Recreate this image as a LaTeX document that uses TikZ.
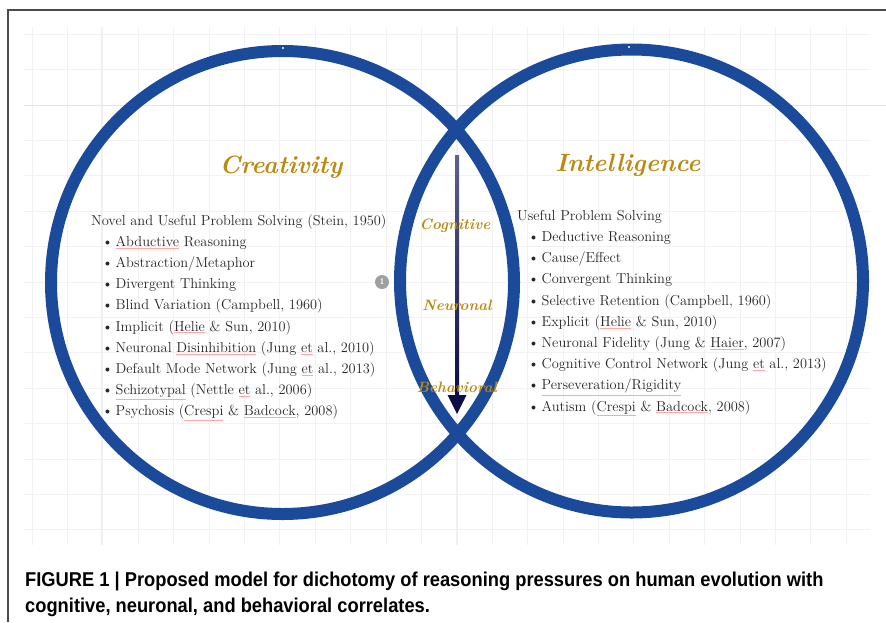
\documentclass[tikz,border=0pt]{standalone}
\usepackage{fontspec}
\usepackage{tikz}
\usetikzlibrary{positioning,arrows.meta}
\newfontfamily\capfont[FakeStretch=0.915]{Liberation Sans}
\definecolor{ringblue}{RGB}{26,74,153}
\definecolor{goldtext}{RGB}{186,138,18}
\definecolor{textgray}{RGB}{38,38,38}
\definecolor{arrownavy}{RGB}{12,12,70}
\newcommand{\spell}[1]{{\color{red!35}\underline{\color{textgray}#1}}}
\newcommand{\itm}{\hspace*{11pt}\textbullet\hspace{2.5pt}}

\begin{document}
\begin{tikzpicture}[x=1pt, y=-1pt]
\tikzset{
  ring/.style={draw=ringblue, line width=12pt},
  title/.style={text=goldtext, font=\fontsize{25}{28}\selectfont\bfseries\itshape},
  level/.style={text=goldtext, font=\fontsize{15}{17}\selectfont\bfseries\itshape, inner sep=0pt},
  list/.style={align=left, text=textgray, inner sep=0pt, font=\fontsize{14.4}{21.2}\selectfont},
  gridline/.style={draw=gray!10, line width=0.8pt},
  majorline/.style={draw=gray!20, line width=0.9pt},
  badge/.style={circle, fill=gray!75, text=white, inner sep=0pt, minimum size=14pt, font=\sffamily\bfseries\fontsize{8}{8}\selectfont},
}
\useasboundingbox (0,0) rectangle (886,622);

% grid in the background
\foreach \i in {0,...,23}
  \draw[gridline] ({32+35.4*\i},27) -- ++(0,518);
\foreach \j in {0,...,14}
  \draw[gridline] (24,{34.2+35.4*\j}) -- (870,{34.2+35.4*\j});
\draw[majorline] (24,105) -- (886,105);
\draw[gridline, draw=gray!14] (101.5,27) -- ++(0,518);
\draw[gridline, draw=gray!14] (457,27) -- ++(0,518);

% frame
\draw[gray!60!black, line width=1.2pt] (886,10) -- (8,10) -- (8,622);

% the two circles
\coordinate (cl) at (282.5,282.5);
\coordinate (cr) at (631.5,281);
\draw[ring] (cl) circle (231.5);
\draw[ring] (cr) circle (231.5);
\fill[white] (283,48) circle (1.2);
\fill[white] (629,47) circle (1.2);

% titles
\node[title] (cre) at (281,167) {Creativity};
\node[title] (int) at (628,165) {Intelligence};

% lists
\node[list, anchor=north west] (crelist) at (91,214) {%
Novel and Useful Problem Solving (Stein, 1950)\\
\itm\spell{Abductive} Reasoning\\
\itm Abstraction/Metaphor\\
\itm Divergent Thinking\\
\itm Blind Variation (Campbell, 1960)\\
\itm Implicit (\spell{Helie} \& Sun, 2010)\\
\itm Neuronal \spell{Disinhibition} (Jung \spell{et} al., 2010)\\
\itm Default Mode Network (Jung \spell{et} al., 2013)\\
\itm \spell{Schizotypal} (Nettle \spell{et} al., 2006)\\
\itm Psychosis (\spell{Crespi} \& \spell{Badcock}, 2008)};

\node[list, anchor=north west] (intlist) at (517,210) {%
Useful Problem Solving\\
\itm Deductive Reasoning\\
\itm Cause/Effect\\
\itm Convergent Thinking\\
\itm Selective Retention (Campbell, 1960)\\
\itm Explicit (\spell{Helie} \& Sun, 2010)\\
\itm Neuronal Fidelity (Jung \& \spell{Haier}, 2007)\\
\itm Cognitive Control Network (Jung \spell{et} al., 2013)\\
\itm \spell{Perseveration/Rigidity}\\
\itm Autism (\spell{Crespi} \& \spell{Badcock}, 2008)};

\node[badge] (one) at (382,282) {1};

% arrow through the overlap
\coordinate (atop) at (457,155);
\coordinate (abot) at (457,395);
\coordinate (atip) at (457,414);
\shade[top color=arrownavy!65!white, bottom color=arrownavy] ([xshift=-2pt]atop) rectangle ([xshift=2pt]abot);
\fill[arrownavy] ([xshift=-9.5pt]abot) -- ([xshift=9.5pt]abot) -- (atip) -- cycle;

\node[level] (cog) at (455,226) {Cognitive};
\node[level] (neu) at (457,305) {Neuronal};
\node[level] (beh) at (457,387) {Behavioral};

% caption
\node[anchor=base west, align=left, inner sep=0pt, font=\capfont\bfseries\fontsize{20}{26}\selectfont] (cap) at (25,612) {%
FIGURE 1 | Proposed model for dichotomy of reasoning pressures on human evolution with\\
cognitive, neuronal, and behavioral correlates.};
\end{tikzpicture}
\end{document}
